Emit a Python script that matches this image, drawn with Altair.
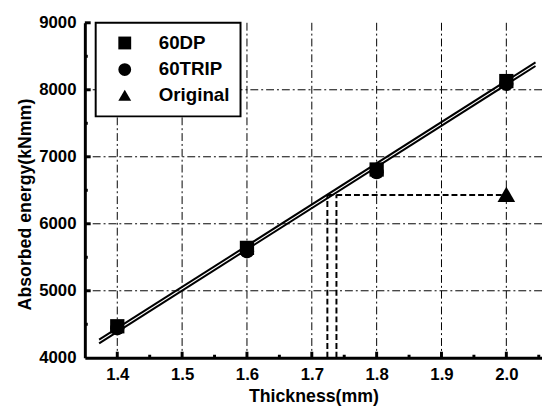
import altair as alt
import pandas as pd

# ---- data ----
thickness = [1.4, 1.6, 1.8, 2.0]
dp_energy = [4470, 5640, 6810, 8130]
trip_energy = [4440, 5590, 6770, 8090]
orig_thickness = [2.0]
orig_energy = [6440]

fit_x = [1.372, 2.045]
fit_dp = [4270, 8410]
fit_trip = [4215, 8355]

ref_level = 6430
ref_x = [1.724, 1.738]
ref_end = 2.0

x_grid = [1.4, 1.5, 1.6, 1.7, 1.8, 1.9, 2.0]
y_grid = [5000, 6000, 7000, 8000]
x_major = [1.4, 1.5, 1.6, 1.7, 1.8, 1.9, 2.0]
x_minor = [1.45, 1.55, 1.65, 1.75, 1.85, 1.95, 2.05]
y_major = [5000, 6000, 7000, 8000, 9000]
y_minor = [4500, 5500, 6500, 7500, 8500]

series = ["60DP", "60TRIP", "Original"]
shapes = ["square", "circle", "triangle-up"]

XMIN, XMAX = 1.35, 2.055
YMIN, YMAX = 4000, 9000
FONT = "Liberation Sans"

xs = alt.Scale(domain=[XMIN, XMAX], nice=False, zero=False)
ys = alt.Scale(domain=[YMIN, YMAX], nice=False, zero=False)

pts = pd.DataFrame(
    {"x": thickness + thickness,
     "y": dp_energy + trip_energy,
     "s": ["60DP"] * 4 + ["60TRIP"] * 4}
)
orig = pd.DataFrame({"x": orig_thickness, "y": orig_energy, "s": ["Original"]})
fits = pd.DataFrame(
    {"x": fit_x + fit_x, "y": fit_dp + fit_trip,
     "s": ["60DP", "60DP", "60TRIP", "60TRIP"]}
)

dash = [8, 3, 2, 3]

vgrid = alt.Chart(pd.DataFrame({"x": x_grid})).mark_rule(
    color="black", strokeWidth=1, strokeDash=dash
).encode(x=alt.X("x:Q", scale=xs,
                 axis=alt.Axis(title="Thickness(mm)", values=x_major, format=".1f",
                               grid=False, tickSize=0, domainWidth=3, domainColor="black",
                               labelFont=FONT, labelFontSize=17, labelFontWeight="bold",
                               labelColor="black", labelPadding=9,
                               titleFont=FONT, titleFontSize=18, titleFontWeight="bold",
                               titleColor="black", titlePadding=5)))

hgrid = alt.Chart(pd.DataFrame({"y": y_grid})).mark_rule(
    color="black", strokeWidth=1, strokeDash=dash
).encode(y=alt.Y("y:Q", scale=ys,
                 axis=alt.Axis(title="Absorbed energy(kNmm)", values=[4000] + y_major,
                               format="d", grid=False, tickSize=0, domainWidth=3,
                               domainColor="black",
                               labelFont=FONT, labelFontSize=17, labelFontWeight="bold",
                               labelColor="black", labelPadding=9,
                               titleFont=FONT, titleFontSize=18, titleFontWeight="bold",
                               titleColor="black", titlePadding=4, titleY=184)))

xmaj = alt.Chart(pd.DataFrame({"x": x_major})).mark_rule(color="black", strokeWidth=3).encode(
    x=alt.X("x:Q", scale=xs), y=alt.datum(YMIN), y2=alt.datum(YMIN + 90))
xmin_t = alt.Chart(pd.DataFrame({"x": x_minor})).mark_rule(color="black", strokeWidth=3).encode(
    x=alt.X("x:Q", scale=xs), y=alt.datum(YMIN), y2=alt.datum(YMIN + 45))
ymaj = alt.Chart(pd.DataFrame({"y": y_major})).mark_rule(color="black", strokeWidth=3).encode(
    y=alt.Y("y:Q", scale=ys), x=alt.datum(XMIN), x2=alt.datum(XMIN + 0.009))
ymin_t = alt.Chart(pd.DataFrame({"y": y_minor})).mark_rule(color="black", strokeWidth=3).encode(
    y=alt.Y("y:Q", scale=ys), x=alt.datum(XMIN), x2=alt.datum(XMIN + 0.0045))

fit_lines = alt.Chart(fits).mark_line(color="black", strokeWidth=2).encode(
    x=alt.X("x:Q", scale=xs), y=alt.Y("y:Q", scale=ys), detail="s:N")

href = alt.Chart(pd.DataFrame({"x": [ref_x[0]], "x2": [ref_end], "y": [ref_level]})).mark_rule(
    color="black", strokeWidth=2, strokeDash=[6, 3]
).encode(x=alt.X("x:Q", scale=xs), x2="x2:Q", y=alt.Y("y:Q", scale=ys))

vref = alt.Chart(pd.DataFrame({"x": ref_x, "y": [YMIN, YMIN], "y2": [ref_level, ref_level]})).mark_rule(
    color="black", strokeWidth=2, strokeDash=[6, 3]
).encode(x=alt.X("x:Q", scale=xs), y=alt.Y("y:Q", scale=ys), y2="y2:Q")

points = alt.Chart(pts).mark_point(filled=True, color="black", opacity=1, size=210).encode(
    x=alt.X("x:Q", scale=xs), y=alt.Y("y:Q", scale=ys),
    shape=alt.Shape("s:N", scale=alt.Scale(domain=series, range=shapes),
                    legend=alt.Legend(title=None, orient="none", legendX=11, legendY=0,
                                      strokeColor="black", fillColor="white",
                                      padding=11, symbolOffset=9, symbolSize=170,
                                      symbolFillColor="black", symbolStrokeColor="black",
                                      labelFont=FONT, labelFontSize=19, labelFontWeight="bold",
                                      labelColor="black", labelOffset=25)),
)

orig_pt = alt.Chart(orig).mark_point(filled=True, color="black", opacity=1, size=320,
                                     shape="triangle-up").encode(
    x=alt.X("x:Q", scale=xs), y=alt.Y("y:Q", scale=ys))

chart = alt.layer(vgrid, hgrid, xmaj, xmin_t, ymaj, ymin_t, fit_lines, href, vref, points,
                  orig_pt).properties(
    width=464, height=340,
    autosize=alt.AutoSizeParams(type="none"),
    padding={"left": 78, "top": 12, "right": 0, "bottom": 49},
    background="white",
).configure_view(stroke=None).configure_legend(rowPadding=6, strokeWidth=2)

chart.save("out.html", embed_options={"renderer": "svg", "actions": False})
